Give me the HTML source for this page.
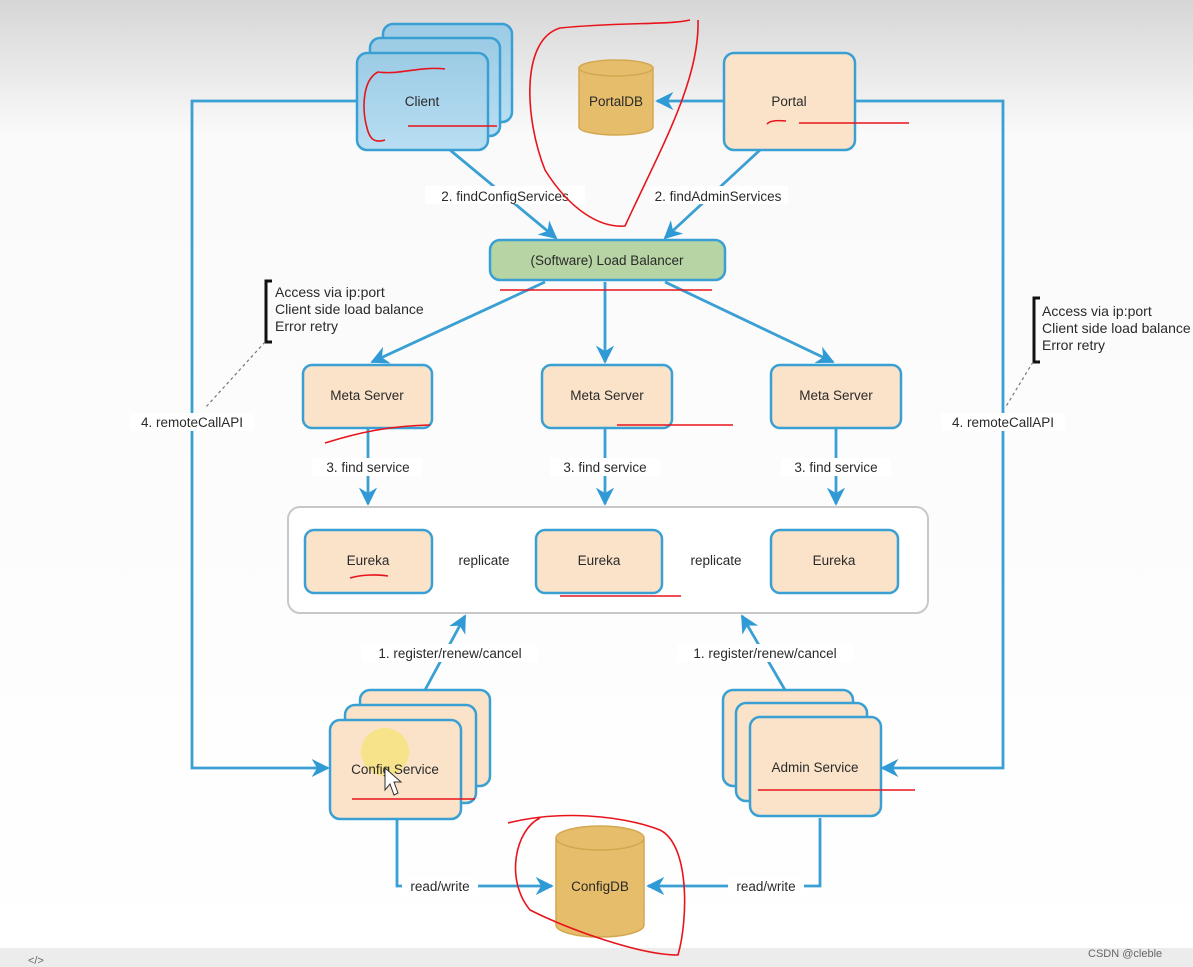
<!DOCTYPE html>
<html><head><meta charset="utf-8"><style>
html,body{margin:0;padding:0;width:1193px;height:967px;overflow:hidden;background:#fff}
svg text{font-family:"Liberation Sans",sans-serif;font-size:13.5px;fill:#2a2a2a}
</style></head><body>
<svg width="1193" height="967" viewBox="0 0 1193 967" xmlns="http://www.w3.org/2000/svg">
<defs>
<linearGradient id="bg" x1="0" y1="0" x2="0" y2="1">
<stop offset="0" stop-color="#d6d6d6"/><stop offset="0.14" stop-color="#fafafa"/><stop offset="1" stop-color="#fff"/>
</linearGradient>
<linearGradient id="cl" x1="0" y1="0" x2="0" y2="1"><stop offset="0" stop-color="#9ccbe5"/><stop offset="1" stop-color="#b8def2"/></linearGradient>
<marker id="a" viewBox="0 0 10 10" refX="9" refY="5" markerWidth="6.5" markerHeight="6.5" orient="auto-start-reverse"><path d="M0,0 L10,5 L0,10 L3,5 z" fill="#2f9ad6"/></marker>
</defs>
<rect width="1193" height="967" fill="url(#bg)"/>
<rect y="948" width="1193" height="19" fill="#ececec"/>
<g fill="none" stroke="#3a9fd3" stroke-width="2.8">
<path d="M358,101 H192 V768 H328" marker-end="url(#a)"/>
<path d="M855,101 H1003 V768 H882" marker-end="url(#a)"/>
<path d="M724,101 H657" marker-end="url(#a)"/>
<path d="M450,150 L556,238" marker-end="url(#a)"/>
<path d="M760,150 L665,238" marker-end="url(#a)"/>
<path d="M545,282 L372,362" marker-end="url(#a)"/>
<path d="M605,282 V362" marker-end="url(#a)"/>
<path d="M665,282 L833,362" marker-end="url(#a)"/>
<path d="M368,428 V504" marker-end="url(#a)"/>
<path d="M605,428 V504" marker-end="url(#a)"/>
<path d="M836,428 V504" marker-end="url(#a)"/>
<path d="M434,560 H534" marker-start="url(#a)" marker-end="url(#a)"/>
<path d="M664,560 H769" marker-start="url(#a)" marker-end="url(#a)"/>
<path d="M425,690 L465,616" marker-end="url(#a)"/>
<path d="M785,690 L742,616" marker-end="url(#a)"/>
<path d="M397,820 V886 H552" marker-end="url(#a)"/>
<path d="M820,818 V886 H648" marker-end="url(#a)"/>
</g>
<rect x="288" y="507" width="640" height="106" rx="12" fill="#fff" stroke="#c8c8c8" stroke-width="2"/>
<g stroke="#3a9fd3" stroke-width="2.5" fill="url(#cl)">
<rect x="383" y="24" width="129" height="98" rx="10"/>
<rect x="370" y="38" width="130" height="98" rx="10"/>
<rect x="357" y="53" width="131" height="97" rx="10"/>
</g>
<g stroke="#3a9fd3" stroke-width="2.5" fill="#fbe3c9">
<rect x="724" y="53" width="131" height="97" rx="10"/>
<rect x="303" y="365" width="129" height="63" rx="9"/>
<rect x="542" y="365" width="130" height="63" rx="9"/>
<rect x="771" y="365" width="130" height="63" rx="9"/>
<rect x="305" y="530" width="127" height="63" rx="9"/>
<rect x="536" y="530" width="126" height="63" rx="9"/>
<rect x="771" y="530" width="127" height="63" rx="9"/>
<rect x="360" y="690" width="130" height="96" rx="10"/>
<rect x="345" y="705" width="131" height="98" rx="10"/>
<rect x="330" y="720" width="131" height="99" rx="10"/>
<rect x="723" y="690" width="130" height="96" rx="10"/>
<rect x="736" y="703" width="131" height="98" rx="10"/>
<rect x="750" y="717" width="131" height="99" rx="10"/>
</g>
<rect x="490" y="240" width="235" height="40" rx="10" fill="#b7d4a4" stroke="#3a9fd3" stroke-width="2.5"/>
<g fill="#e6bd6a" stroke="#d4a850" stroke-width="1.5">
<path d="M579,68 V127 A37,8 0 0 0 653,127 V68"/><ellipse cx="616" cy="68" rx="37" ry="8"/>
<path d="M556,838 V925 A44,12 0 0 0 644,925 V838"/><ellipse cx="600" cy="838" rx="44" ry="12"/>
</g>
<circle cx="385" cy="752" r="24" fill="#f5e27a" opacity="0.8"/>
<g text-anchor="middle">
<text x="422" y="106">Client</text>
<text x="616" y="106">PortalDB</text>
<text x="789" y="106">Portal</text>
<text x="607" y="265">(Software) Load Balancer</text>
<text x="367" y="400">Meta Server</text>
<text x="607" y="400">Meta Server</text>
<text x="836" y="400">Meta Server</text>
<text x="368" y="565">Eureka</text>
<text x="599" y="565">Eureka</text>
<text x="834" y="565">Eureka</text>
<text x="395" y="774">Config Service</text>
<text x="815" y="772">Admin Service</text>
<text x="600" y="891">ConfigDB</text>
</g>
<g text-anchor="middle">
<rect x="425" y="186" width="160" height="18" fill="#fff"/>
<text x="505" y="201">2. findConfigServices</text>
<rect x="650" y="186" width="138" height="18" fill="#fff"/>
<text x="718" y="201">2. findAdminServices</text>
<rect x="312" y="458" width="110" height="18" fill="#fff"/><text x="368" y="472">3. find service</text>
<rect x="550" y="458" width="110" height="18" fill="#fff"/><text x="605" y="472">3. find service</text>
<rect x="781" y="458" width="110" height="18" fill="#fff"/><text x="836" y="472">3. find service</text>
<rect x="450" y="551" width="68" height="18" fill="#fff"/><text x="484" y="565">replicate</text>
<rect x="682" y="551" width="68" height="18" fill="#fff"/><text x="716" y="565">replicate</text>
<rect x="362" y="644" width="176" height="18" fill="#fff"/><text x="450" y="658">1. register/renew/cancel</text>
<rect x="677" y="644" width="176" height="18" fill="#fff"/><text x="765" y="658">1. register/renew/cancel</text>
<rect x="130" y="413" width="124" height="18" fill="#fff"/><text x="192" y="427">4. remoteCallAPI</text>
<rect x="941" y="413" width="124" height="18" fill="#fff"/><text x="1003" y="427">4. remoteCallAPI</text>
<rect x="402" y="877" width="76" height="18" fill="#fff"/><text x="440" y="891">read/write</text>
<rect x="728" y="877" width="76" height="18" fill="#fff"/><text x="766" y="891">read/write</text>
</g>
<g fill="none" stroke="#111" stroke-width="3"><path d="M272,281 H266 V342 H272"/><path d="M1040,298 H1034 V362 H1040"/></g>
<g fill="none" stroke="#777" stroke-width="1.2" stroke-dasharray="3,3"><path d="M265,342 L205,408"/><path d="M1033,362 L1005,408"/></g>
<g style="font-size:14px">
<text x="275" y="297" style="font-size:14px">Access via ip:port</text>
<text x="275" y="314" style="font-size:14px">Client side load balance</text>
<text x="275" y="331" style="font-size:14px">Error retry</text>
<text x="1042" y="316" style="font-size:14px">Access via ip:port</text>
<text x="1042" y="333" style="font-size:14px">Client side load balance</text>
<text x="1042" y="350" style="font-size:14px">Error retry</text>
</g>
<g fill="none" stroke="#e8141c" stroke-width="1.6">
<path d="M445,69 C420,66 400,75 378,72 C362,80 362,110 367,128 C370,140 375,143 385,140"/>
<path d="M408,126 H497"/><path d="M767,124 C770,121 775,120 786,121"/><path d="M799,123 H909"/>
<path d="M690,20 C670,25 620,22 560,28 C520,40 525,120 545,170 C570,210 600,228 625,226 C660,150 700,80 698,20"/>
<path d="M500,290 H712"/>
<path d="M325,443 C360,432 390,426 430,425"/><path d="M617,425 H733"/>
<path d="M350,578 C360,575 375,574 388,576"/><path d="M560,596 H681"/>
<path d="M352,799 H475"/><path d="M758,790 H915"/>
<path d="M508,823 C560,810 620,815 660,830 C690,845 688,920 678,955 C640,955 570,930 530,910 C505,880 515,830 540,818"/>
</g>
<path d="M385,768 L385,790 L390,784 L394,795 L398,793 L394,782 L401,782 Z" fill="#fff" stroke="#333" stroke-width="1"/>
<text x="1088" y="957" style="font-size:11px;fill:#666">CSDN @cleble</text>
<text x="28" y="964" style="font-size:11px;fill:#666">&lt;/&gt;</text>
</svg>
</body></html>
